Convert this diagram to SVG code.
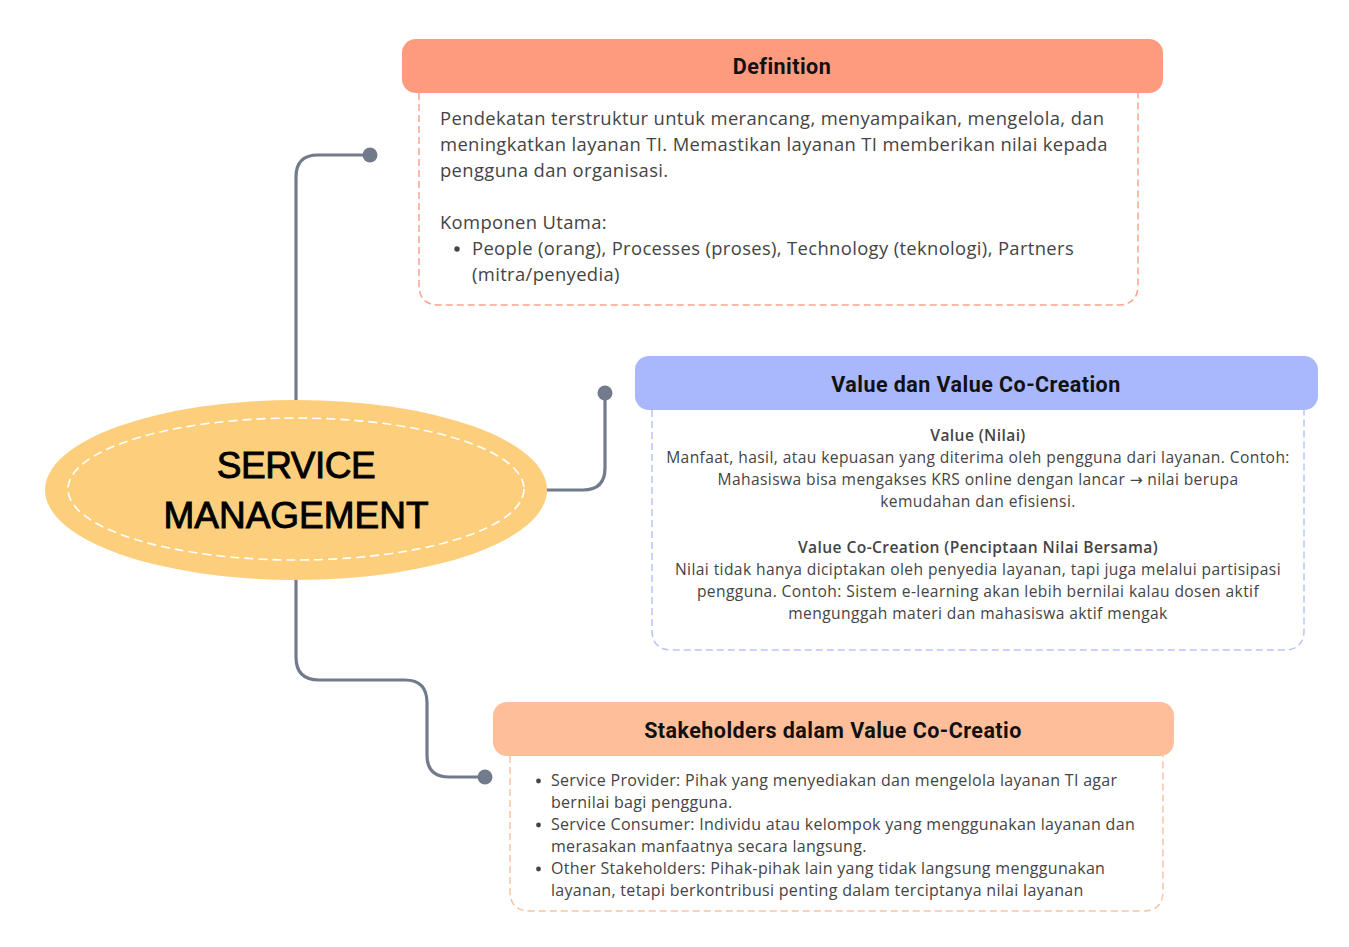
<svg xmlns="http://www.w3.org/2000/svg" width="1349" height="947" viewBox="0 0 1349 947">
<style>
.conn{fill:none;stroke:#727b8c;stroke-width:3.2;stroke-linecap:round;stroke-linejoin:round}
.dot{fill:#727b8c}
.hdr{font-family:Roboto,"Liberation Sans",sans-serif;font-weight:700;font-size:21.5px;letter-spacing:0.45px;fill:#111;text-anchor:middle}
.body{font-family:"Open Sans","Liberation Sans",sans-serif;fill:#444}
.b18{font-size:18.4px;letter-spacing:0.36px}
.b15{font-size:15.6px;letter-spacing:0.4px}
.b16{font-size:16px;letter-spacing:0.3px}
.bold{font-weight:600}
.mid{text-anchor:middle}
.arrow{font-family:"DejaVu Sans",sans-serif;letter-spacing:0}
.title{font-family:"Liberation Sans",Arial,sans-serif;font-size:37px;fill:#000;stroke:#000;stroke-width:0.9;text-anchor:middle}
</style>
<rect width="1349" height="947" fill="#ffffff"/>
<g id="connectors">
<path class="conn" d="M296,400 V177 Q296,155 318,155 H370"/>
<circle class="dot" cx="370" cy="155" r="7.5"/>
<path class="conn" d="M547,490 H583 Q605,490 605,468 V393"/>
<circle class="dot" cx="605" cy="393" r="7.5"/>
<path class="conn" d="M296,580 V657 Q296,680 319,680 H405 Q427,680 427,703 V755 Q427,777 449,777 H485"/>
<circle class="dot" cx="485" cy="777" r="7.5"/>
</g>
<g id="service-management">
<ellipse cx="296" cy="490" rx="251" ry="90" fill="#fdcf7c"/>
<ellipse cx="296" cy="489" rx="228" ry="71" fill="none" stroke="#ffffff" stroke-width="1.6" stroke-dasharray="9,5"/>
<text class="title" x="296" y="478" letter-spacing="-0.5">SERVICE</text>
<text class="title" x="296" y="528">MANAGEMENT</text>
</g>
<g id="definition">
<path d="M419,93 V285 Q419,305 439,305 H1118 Q1138,305 1138,285 V93" fill="#fff" stroke="#f7a48a" stroke-width="1.5" stroke-dasharray="7,4"/>
<rect x="402" y="39" width="761" height="54" rx="14" fill="#fe9b7e"/>
<text class="hdr" x="782" y="74">Definition</text>
<g class="body b18">
<text x="440" y="125">Pendekatan terstruktur untuk merancang, menyampaikan, mengelola, dan</text>
<text x="440" y="151">meningkatkan layanan TI. Memastikan layanan TI memberikan nilai kepada</text>
<text x="440" y="177">pengguna dan organisasi.</text>
<text x="440" y="229">Komponen Utama:</text>
<circle cx="457" cy="249" r="2.7" fill="#444"/>
<text x="472" y="255">People (orang), Processes (proses), Technology (teknologi), Partners</text>
<text x="472" y="281">(mitra/penyedia)</text>
</g>
</g>
<g id="value">
<path d="M652,410 V630 Q652,650 672,650 H1284 Q1304,650 1304,630 V410" fill="#fff" stroke="#b9c3fa" stroke-width="1.5" stroke-dasharray="7,4"/>
<rect x="635" y="356" width="683" height="54" rx="14" fill="#a9b8fd"/>
<text class="hdr" x="976" y="392">Value dan Value Co-Creation</text>
<g class="body b15 mid">
<text class="bold" x="978" y="441">Value (Nilai)</text>
<text x="978" y="463">Manfaat, hasil, atau kepuasan yang diterima oleh pengguna dari layanan. Contoh:</text>
<text x="978" y="485">Mahasiswa bisa mengakses KRS online dengan lancar <tspan class="arrow">→</tspan> nilai berupa</text>
<text x="978" y="507">kemudahan dan efisiensi.</text>
<text class="bold" x="978" y="553">Value Co-Creation (Penciptaan Nilai Bersama)</text>
<text x="978" y="575">Nilai tidak hanya diciptakan oleh penyedia layanan, tapi juga melalui partisipasi</text>
<text x="978" y="597">pengguna. Contoh: Sistem e-learning akan lebih bernilai kalau dosen aktif</text>
<text x="978" y="619">mengunggah materi dan mahasiswa aktif mengak</text>
</g>
</g>
<g id="stakeholders">
<path d="M510,756 V891 Q510,911 530,911 H1143 Q1163,911 1163,891 V756" fill="#fff" stroke="#f9c3a3" stroke-width="1.5" stroke-dasharray="7,4"/>
<rect x="493" y="702" width="681" height="54" rx="14" fill="#febe99"/>
<text class="hdr" x="833" y="738">Stakeholders dalam Value Co-Creatio</text>
<g class="body b16">
<circle cx="538.5" cy="781" r="2.4" fill="#444"/>
<text x="551" y="786">Service Provider: Pihak yang menyediakan dan mengelola layanan TI agar</text>
<text x="551" y="808">bernilai bagi pengguna.</text>
<circle cx="538.5" cy="825" r="2.4" fill="#444"/>
<text x="551" y="830">Service Consumer: Individu atau kelompok yang menggunakan layanan dan</text>
<text x="551" y="852">merasakan manfaatnya secara langsung.</text>
<circle cx="538.5" cy="869" r="2.4" fill="#444"/>
<text x="551" y="874">Other Stakeholders: Pihak-pihak lain yang tidak langsung menggunakan</text>
<text x="551" y="896">layanan, tetapi berkontribusi penting dalam terciptanya nilai layanan</text>
</g>
</g>
</svg>
